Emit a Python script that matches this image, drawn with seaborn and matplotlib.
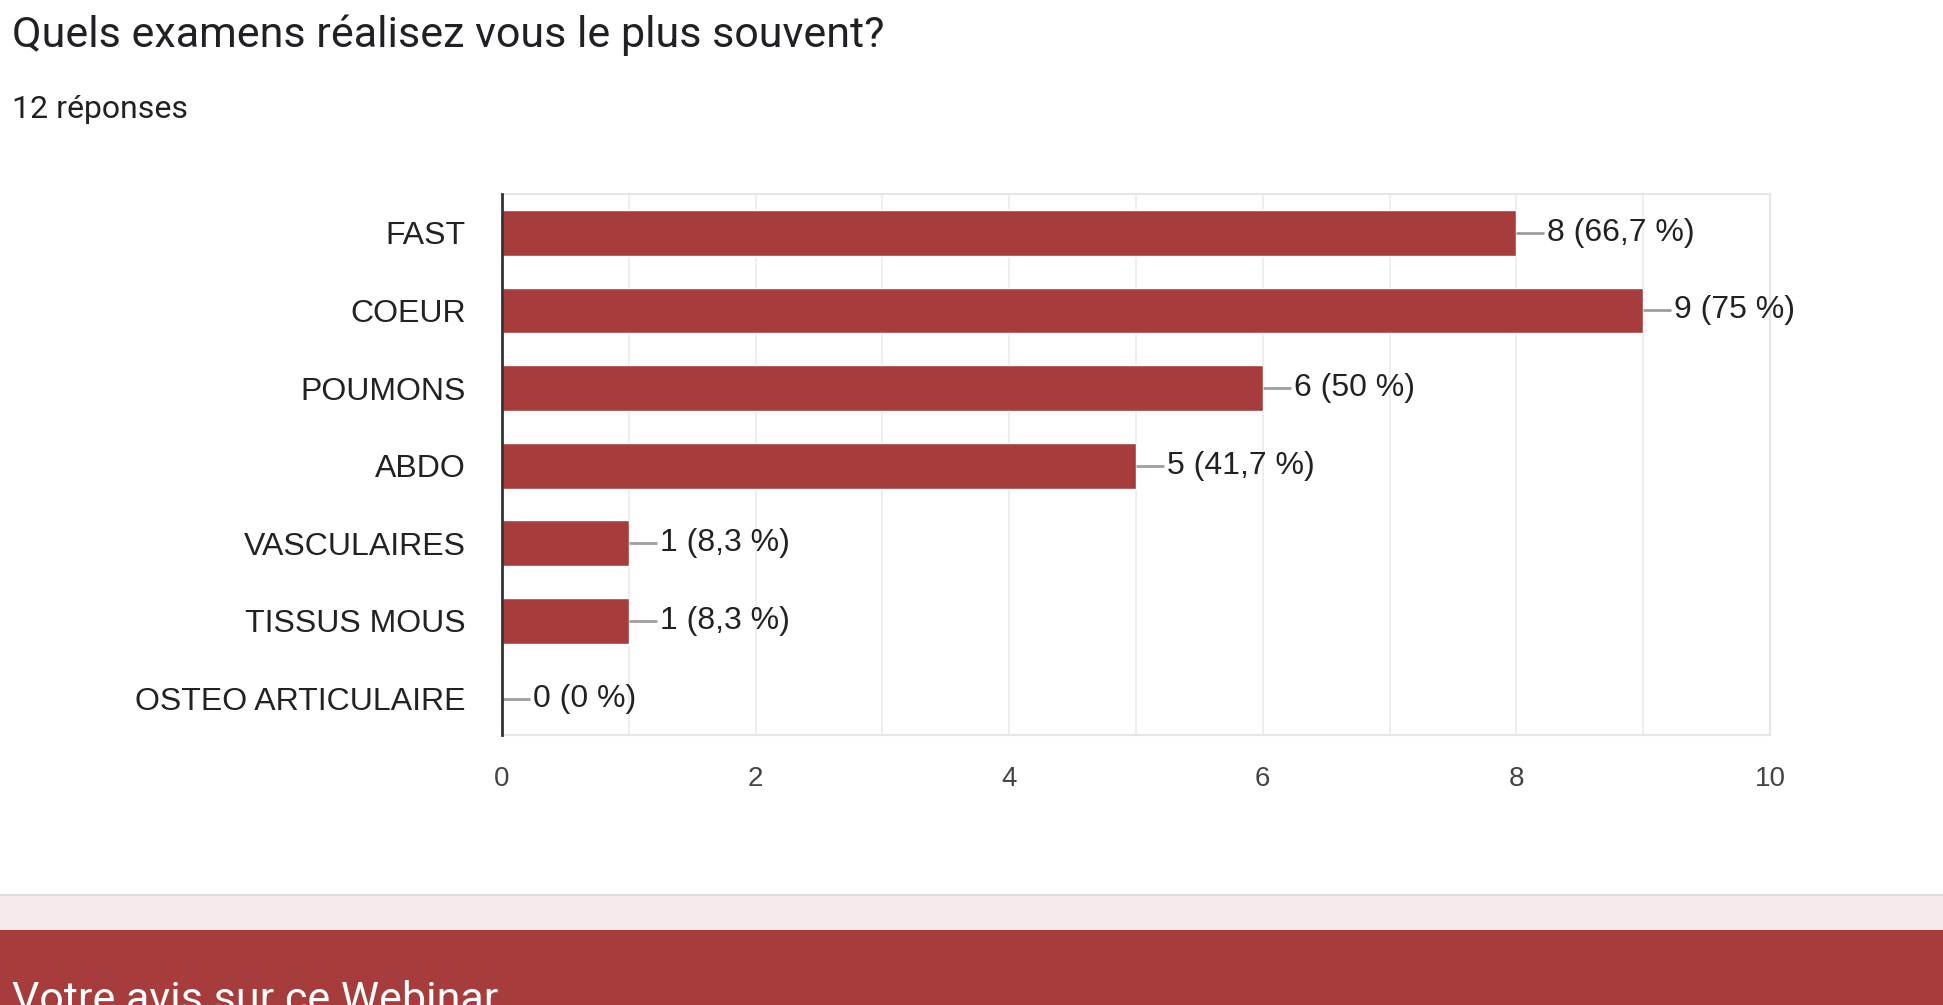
import numpy as np
import pandas as pd
import matplotlib
matplotlib.use('Agg')
import matplotlib.pyplot as plt
import seaborn as sns
from matplotlib.patches import Rectangle

# Data
categories = ['FAST', 'COEUR', 'POUMONS', 'ABDO', 'VASCULAIRES', 'TISSUS MOUS', 'OSTEO ARTICULAIRE']
counts = [8, 9, 6, 5, 1, 1, 0]
n_responses = 12
x_ticks = [0, 2, 4, 6, 8, 10]

title_txt = 'Quels examens réalisez vous le plus souvent?'
subtitle_txt = '12 réponses'
footer_txt = 'Votre avis sur ce Webinar'

bar_color = '#a73c3c'

df = pd.DataFrame({'cat': categories, 'n': counts})

sns.set_style('white')
plt.rcParams['font.family'] = ['Liberation Sans', 'DejaVu Sans']

W, H = 1943, 1005
fig = plt.figure(figsize=(W / 100, H / 100), dpi=100)
fig.patch.set_facecolor('white')

# axes placed in pixel terms
left, right, top, bottom = 502, 1770, 194, 735
ax = fig.add_axes([left / W, 1 - bottom / H, (right - left) / W, (bottom - top) / H])

sns.barplot(data=df, x='n', y='cat', orient='h', color=bar_color, width=0.59,
            saturation=1, ax=ax, zorder=3)

ax.set_xlim(0, 10)
ax.set_ylim(6.47, -0.5)
ax.set_xlabel('')
ax.set_ylabel('')

# grid
ax.set_xticks(np.arange(0, 11, 1), minor=True)
ax.set_xticks(x_ticks)
ax.grid(axis='x', which='both', color='#ebebeb', linewidth=1.2, zorder=0)
ax.grid(axis='y', visible=False)

for s in ['top', 'right', 'bottom']:
    ax.spines[s].set_color('#e6e6e6')
    ax.spines[s].set_linewidth(1.5)
ax.spines['left'].set_color('#333333')
ax.spines['left'].set_linewidth(2)
ax.spines['left'].set_zorder(5)

ax.tick_params(axis='x', which='both', length=0, pad=22, labelsize=20, labelcolor='#444444')
ax.tick_params(axis='y', length=0, pad=26, labelsize=23, labelcolor='#222222')

# value labels with leader lines
for i, v in enumerate(counts):
    pct = round(v / n_responses * 100, 1)
    pct_s = ('%g' % pct).replace('.', ',')
    ax.plot([v, v + 0.22], [i, i], color='#9e9e9e', linewidth=2, zorder=4,
            solid_capstyle='butt')
    ax.text(v + 0.245, i, f'{v} ({pct_s} %)', va='center', ha='left',
            fontsize=23, color='#222222', zorder=4)

# header texts
fig.text(12 / W, 1 - 35 / H, title_txt, fontsize=31, color='#202124',
         family=['Roboto', 'DejaVu Sans'], va='center', ha='left')
fig.text(12 / W, 1 - 110 / H, subtitle_txt, fontsize=23, color='#202124',
         family=['Roboto', 'DejaVu Sans'], va='center', ha='left')

# bottom bands
fig.patches.append(Rectangle((0, 0), 1, (H - 895) / H, transform=fig.transFigure,
                             facecolor='#f5ebeb', edgecolor='none', zorder=0))
fig.patches.append(Rectangle((0, 1 - 896 / H), 1, 2 / H, transform=fig.transFigure,
                             facecolor='#dcdcdc', edgecolor='none', zorder=1))
fig.patches.append(Rectangle((0, 0), 1, (H - 930) / H, transform=fig.transFigure,
                             facecolor=bar_color, edgecolor='none', zorder=1))
fig.text(12 / W, 1 - 1012 / H, footer_txt, fontsize=31, color='white',
         family=['Roboto', 'DejaVu Sans'], va='baseline', ha='left', zorder=3)

fig.savefig('out.png', dpi=100, facecolor='white')
